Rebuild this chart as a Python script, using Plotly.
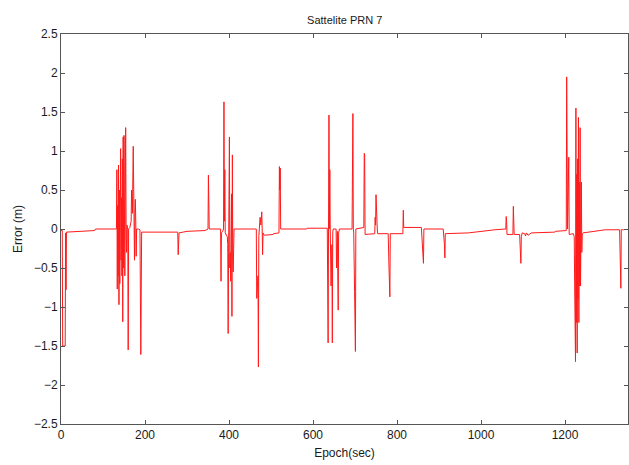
import plotly.graph_objects as go

# Epoch (sec) and error (m)
epoch = [
    0, 3, 4, 10, 11, 12, 13, 80, 82, 130,
    132, 133, 134, 135, 136, 137, 138, 139, 140, 141, 142, 143, 144, 145, 146, 147, 148, 149,
    150, 151, 152, 153, 154, 155, 156, 157, 159, 160, 161, 164, 167, 168, 170, 172, 173, 174,
    175, 176, 177, 178, 179, 180, 184, 188, 190, 192,
    278, 279, 281, 300, 343,
    350, 351, 352, 353, 380, 381, 382, 385, 387, 388, 389, 390, 391, 396, 397, 398, 399, 400,
    401, 402, 403, 404, 405, 406, 407, 408, 409, 410, 411, 412,
    465, 466, 469, 470, 471, 473, 474, 476, 478, 479, 480, 481, 484, 505, 506, 519, 520, 521,
    522, 523, 585, 586, 634, 635, 636, 637, 638, 639, 640, 641, 643, 645, 646, 647, 648, 655,
    656, 658, 660, 661, 663,
    693, 694, 695, 696, 697, 699, 701, 702, 712, 721, 722, 723, 724, 747, 748, 749, 750, 751,
    752, 753, 754, 779, 781, 783, 784, 814, 815, 816, 858, 861, 863, 864, 886, 910, 913, 914,
    915, 970, 1033,
    1059, 1060, 1061, 1062, 1076, 1077, 1078, 1079, 1092, 1093, 1095, 1096, 1098, 1104, 1106,
    1108, 1112, 1120, 1176, 1177, 1203, 1204, 1206, 1209, 1210, 1220, 1222, 1223, 1224, 1225,
    1226, 1227, 1228, 1229, 1230, 1231, 1232, 1233, 1234, 1235, 1236, 1237, 1238, 1239, 1240,
    1241, 1243, 1295, 1296, 1330, 1331, 1333, 1334, 1340,
]
error = [
    -0.02, -0.02, -1.5, -1.5, -0.05, -0.78, -0.04, -0.02, 0.0, 0.0,
    0.0, 0.76, -0.77, 0.3, -0.6, 0.82, -0.97, 0.5, -0.7, 0.6, 1.03, -0.4, 0.4, -0.6, 0.9, -1.19, 1.18, -0.5,
    1.2, -0.2, -0.6, 0.5, 1.30, 0.0, -0.3, 0.05, 0.0, -1.55, 0.0, 0.02, 0.1, 0.5, 0.2, 1.06, 0.3, -0.3,
    -0.4, 0.2, 0.38, 0.1, -0.35, 0.0, 0.0, -0.01, -1.61, -0.04,
    -0.04, -0.33, -0.05, -0.03, -0.02,
    0.0, 0.69, 0.35, 0.0, 0.0, -0.67, -0.05, -0.03, 0.0, 1.63, 0.1, 0.76, -0.05, -0.1, -0.2, -1.34, -0.3, 0.6,
    1.18, -0.5, -0.3, -0.67, -0.2, 0.45, -1.12, 0.95, -0.4, -0.55, -0.1, 0.0,
    0.0, -0.89, -0.6, -1.77, -0.1, 0.05, 0.15, 0.05, 0.22, 0.0, -0.33, -0.05, -0.08, -0.07, -0.06, -0.05, 0.80, 0.5,
    0.78, 0.0, 0.0, 0.01, 0.01, -0.73, -1.46, 0.0, 1.46, 0.0, 0.76, 0.0, -0.73, -0.2, -1.46, -0.05, 0.0, 0.0,
    -0.5, -0.03, -1.04, -0.05, 0.0,
    0.0, 0.75, 1.48, 0.0, -0.05, -0.8, -1.57, 0.0, 0.01, 0.02, 0.97, 0.95, -0.07, -0.06, 0.15, 0.05, 0.44, 0.1,
    0.3, 0.0, -0.06, -0.06, -0.5, -0.87, -0.06, -0.06, 0.24, 0.02, 0.02, -0.2, -0.44, 0.0, 0.0, 0.0, -0.2, -0.37,
    -0.06, -0.05, -0.01,
    0.0, 0.16, 0.1, -0.07, -0.07, 0.29, 0.1, -0.07, -0.07, -0.25, -0.44, -0.1, -0.05, -0.06, -0.09,
    -0.05, -0.08, -0.05, -0.04, -0.03, -0.02, 1.95, 0.0, 0.92, -0.07, -0.06, -0.1, -0.73, -1.0, -1.70,
    1.55, -1.2, 0.7, -1.59, 0.9, -0.9, 1.43, -1.2, 0.6, -0.73, 1.30, -0.73, 0.3, 0.60, -0.3,
    -0.06, -0.05, -0.02, -0.01, -0.01, -0.4, -0.76, -0.01, -0.01,
]

x_ticks = [0, 200, 400, 600, 800, 1000, 1200]
y_ticks = [-2.5, -2, -1.5, -1, -0.5, 0, 0.5, 1, 1.5, 2, 2.5]
y_tick_text = ["\u22122.5", "\u22122", "\u22121.5", "\u22121", "\u22120.5", "0", "0.5", "1", "1.5", "2", "2.5"]

fig = go.Figure(go.Scatter(
    x=epoch, y=error, mode="lines",
    line=dict(color="#ff1a1a", width=1),
    hoverinfo="skip",
))

font = dict(family="Liberation Sans, Arial, sans-serif", size=12, color="#1a1a1a")

fig.update_layout(
    width=629, height=465,
    margin=dict(l=61, r=1, t=34, b=41),
    paper_bgcolor="white", plot_bgcolor="white",
    showlegend=False,
    font=font,
    title=dict(text="Sattelite PRN 7", x=0.548, xanchor="center", y=0.957, yanchor="middle",
               font=dict(family="Liberation Sans, Arial, sans-serif", size=11, color="#1a1a1a")),
)
fig.update_xaxes(
    range=[0, 1350], tickvals=x_ticks, ticks="inside", ticklen=4, tickcolor="#555555",
    showline=True, linecolor="#555555", linewidth=1, mirror="ticks", showgrid=False, zeroline=False,
    automargin=False,
    title=dict(text="Epoch(sec)", standoff=7, font=font),
)
fig.update_yaxes(
    range=[-2.5, 2.5], tickvals=y_ticks, ticktext=y_tick_text, ticks="inside", ticklen=4,
    tickcolor="#555555", showline=True, linecolor="#555555", linewidth=1, mirror="ticks",
    showgrid=False, zeroline=False, automargin=False,
    title=dict(text="Error (m)", standoff=8, font=font),
)

fig.write_html(
    "out.html",
    config={"displayModeBar": False},
    post_script="document.body.style.margin='0';document.body.style.overflow='hidden';",
)
